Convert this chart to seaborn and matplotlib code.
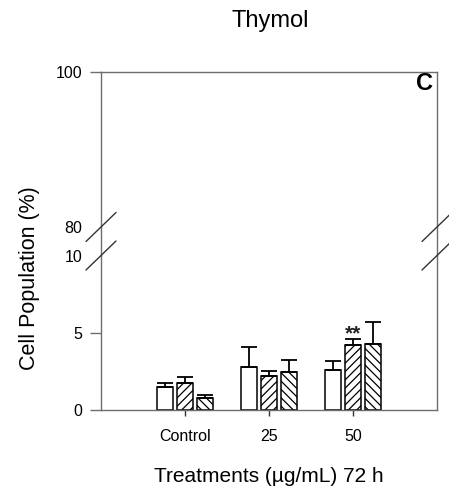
import matplotlib
matplotlib.use('Agg')
import matplotlib.pyplot as plt
import seaborn as sns
import pandas as pd
from matplotlib.lines import Line2D

# ---- data ----
treatments = ['Control', '25', '50']
series = ['S1', 'S2', 'S3']
means_s1 = [1.52, 2.82, 2.62]
means_s2 = [1.73, 2.21, 4.22]
means_s3 = [0.80, 2.49, 4.29]
err_s1 = [0.21, 1.25, 0.54]
err_s2 = [0.44, 0.32, 0.39]
err_s3 = [0.17, 0.76, 1.40]
sig_s2 = ['', '', '**']
lower_ticks = [0, 5, 10]
upper_ticks = [80, 100]

sns.set_theme(style='white')
plt.rcParams['font.family'] = ['Liberation Sans', 'DejaVu Sans']
plt.rcParams['hatch.linewidth'] = 0.9
plt.rcParams['text.color'] = 'black'
plt.rcParams['xtick.color'] = 'black'
plt.rcParams['ytick.color'] = 'black'
plt.rcParams['axes.labelcolor'] = 'black'

rows = []
for s, m in zip(series, [means_s1, means_s2, means_s3]):
    for t, v in zip(treatments, m):
        rows.append({'Treatment': t, 'Series': s, 'Value': v})
df = pd.DataFrame(rows)
errs = [err_s1, err_s2, err_s3]
hatches = ['', '////', '\\\\\\\\']

W, H = 449, 497
fig = plt.figure(figsize=(W / 100, H / 100), dpi=100)
fx = lambda x: x / W
fy = lambda y: 1 - y / H

L, R = 101, 437
ax_lo = fig.add_axes([fx(L), fy(410), (R - L) / W, (410 - 256) / H])
ax_hi = fig.add_axes([fx(L), fy(227), (R - L) / W, (227 - 72) / H])

spine_col = '#6e6e6e'

for ax in (ax_lo, ax_hi):
    sns.barplot(data=df, x='Treatment', y='Value', hue='Series',
                order=treatments, hue_order=series,
                palette=['white'] * 3, edgecolor='black', linewidth=1.1,
                width=0.72, gap=0.2, errorbar=None, legend=False, ax=ax)
    for cont, hatch in zip(ax.containers, hatches):
        for bar in cont:
            bar.set_hatch(hatch)
    ax.set_xlim(-1, 3)
    ax.set_xlabel('')
    ax.set_ylabel('')
    for sp in ax.spines.values():
        sp.set_color(spine_col)
        sp.set_linewidth(1.0)

# error bars & significance on lower axes
for cont, e_list in zip(ax_lo.containers, errs):
    for bar, e in zip(cont, e_list):
        xc = bar.get_x() + bar.get_width() / 2
        h = bar.get_height()
        ax_lo.errorbar([xc], [h], yerr=[[0], [e]], fmt='none', ecolor='black',
                       elinewidth=1.3, capsize=5.8, capthick=1.3, zorder=1)
for bar, e, lab in zip(ax_lo.containers[1], err_s2, sig_s2):
    if lab:
        xc = bar.get_x() + bar.get_width() / 2
        ax_lo.text(xc, bar.get_height() + e - 0.3, lab, ha='center', va='bottom',
                   fontsize=15, fontweight='bold', color='#222222')

# lower axes
ax_lo.set_ylim(0, 10)
ax_lo.spines['top'].set_visible(False)
ax_lo.set_yticks(lower_ticks)
ax_lo.set_yticklabels([str(t) for t in lower_ticks])
ax_lo.set_xticks(range(len(treatments)))
ax_lo.set_xticklabels(treatments)
ax_lo.tick_params(axis='y', direction='out', length=8, width=1, color=spine_col,
                  labelcolor='black', pad=5.5, labelsize=11.5, left=True)
ax_lo.tick_params(axis='x', direction='out', length=4.5, width=1, color='#333333',
                  labelcolor='black', pad=9, labelsize=11.5, bottom=True)
ax_lo.yaxis.get_major_ticks()[2].tick1line.set_visible(False)

# upper axes
ax_hi.set_ylim(80, 100)
ax_hi.spines['bottom'].set_visible(False)
ax_hi.set_xticks([])
ax_hi.set_yticks(upper_ticks)
ax_hi.set_yticklabels([str(t) for t in upper_ticks])
ax_hi.tick_params(axis='y', direction='out', length=8, width=1, color=spine_col,
                  labelcolor='black', pad=5.5, labelsize=11.5, left=True)
ax_hi.yaxis.get_major_ticks()[0].tick1line.set_visible(False)

# continuous spines across the gap and break marks
for xp in (L, R):
    fig.add_artist(Line2D([fx(xp), fx(xp)], [fy(227), fy(256)],
                          transform=fig.transFigure, color=spine_col, lw=1.0))
    for yc in (227, 255.5):
        fig.add_artist(Line2D([fx(xp - 15), fx(xp + 15)], [fy(yc + 14.5), fy(yc - 14.5)],
                              transform=fig.transFigure, color='#333333', lw=1.0))

# texts
fig.text(fx(270), fy(21), 'Thymol', ha='center', va='center', fontsize=17,
         color='black')
fig.text(fx(424.5), fy(84), 'C', ha='center', va='center', fontsize=17,
         fontweight='bold', color='black')
fig.text(fx(29), fy(278), 'Cell Population (%)', rotation=90, ha='center',
         va='center', fontsize=15.5, color='black')
fig.text(fx(269), fy(477), 'Treatments (\u00b5g/mL) 72 h', ha='center',
         va='center', fontsize=15, color='black')

fig.savefig('out.png', dpi=100)
